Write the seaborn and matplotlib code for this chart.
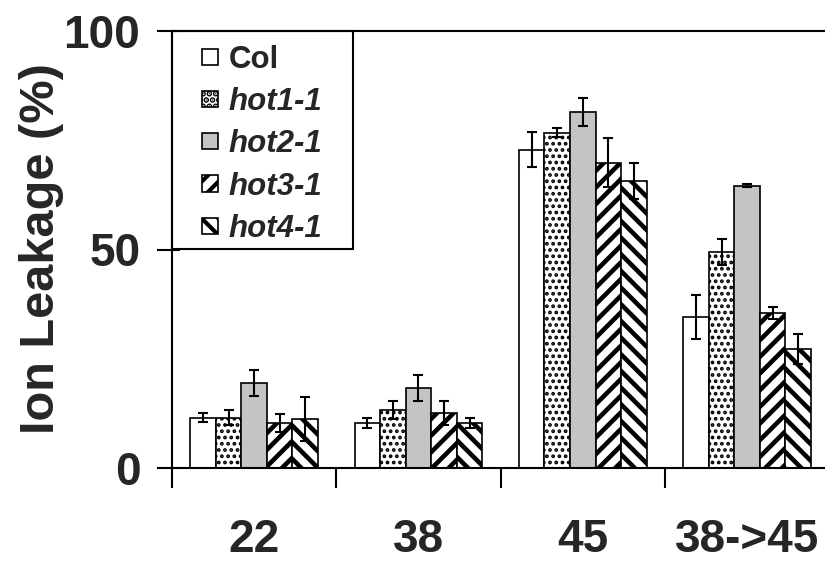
import matplotlib
matplotlib.use("Agg")
import matplotlib.pyplot as plt
import seaborn as sns
import pandas as pd
import numpy as np
from matplotlib.patches import Rectangle
from matplotlib.legend_handler import HandlerPatch
from matplotlib.ticker import FixedLocator

# ---- data ----
conditions = ["22", "38", "45", "38->45"]
genotypes = ["Col", "hot1-1", "hot2-1", "hot3-1", "hot4-1"]
col_vals = [11.5, 10.3, 72.8, 34.6]
col_err = [1.0, 1.1, 4.0, 5.0]
hot1_vals = [11.5, 13.3, 76.7, 49.5]
hot1_err = [1.7, 2.0, 1.0, 3.0]
hot2_vals = [19.5, 18.3, 81.5, 64.6]
hot2_err = [3.0, 3.0, 3.2, 0.4]
hot3_vals = [10.3, 12.6, 69.9, 35.4]
hot3_err = [2.0, 2.7, 5.7, 1.4]
hot4_vals = [11.2, 10.3, 65.7, 27.2]
hot4_err = [5.0, 1.2, 4.1, 3.4]
y_ticks = [0, 50, 100]
y_label = "Ion Leakage (%)"

values = [col_vals, hot1_vals, hot2_vals, hot3_vals, hot4_vals]
errors = [col_err, hot1_err, hot2_err, hot3_err, hot4_err]

rows = []
for g, vals in zip(genotypes, values):
    for c, v in zip(conditions, vals):
        rows.append({"cond": c, "geno": g, "leak": v})
df = pd.DataFrame(rows)

DPI = 150
sns.set_theme(style="white")
plt.rcParams["font.family"] = ["Liberation Sans", "DejaVu Sans"]
plt.rcParams["font.weight"] = "bold"
plt.rcParams["hatch.color"] = "black"
plt.rcParams["hatch.linewidth"] = 2.0

fig = plt.figure(figsize=(825 / DPI, 563 / DPI), dpi=DPI)
ax = fig.add_axes([172 / 825, 95 / 563, 653 / 825, 437 / 563])

palette = {"Col": "white", "hot1-1": "white", "hot2-1": "#c4c4c4",
           "hot3-1": "white", "hot4-1": "white"}
sns.barplot(data=df, x="cond", y="leak", hue="geno", order=conditions,
            hue_order=genotypes, palette=palette, saturation=1,
            width=0.777, gap=0, edgecolor="black", linewidth=0.8,
            errorbar=None, legend=False, ax=ax)

bar_containers = list(ax.containers)
hatches = [None, "....", None, "///", "\\\\\\"]
hatch_lw = [None, 1.2, None, 2.2, 2.2]
for cont, h, hl, errs in zip(bar_containers, hatches, hatch_lw, errors):
    xs, ys = [], []
    for p in cont.patches:
        if h:
            p.set_hatch(h)
            if hasattr(p, "set_hatch_linewidth"):
                p.set_hatch_linewidth(hl)
        xs.append(p.get_x() + p.get_width() / 2)
        ys.append(p.get_height())
    ax.errorbar(xs, ys, yerr=errs, fmt="none", ecolor="black",
                elinewidth=1.0, capsize=2.2, capthick=1.0, zorder=5)

ax.set_xlim(-0.5, 3.474)
ax.set_ylim(0, 100)
ax.set_yticks(y_ticks)
ax.set_yticklabels([str(t) for t in y_ticks], fontsize=22, fontweight="bold")
ax.set_xticks(range(len(conditions)))
ax.set_xticklabels(conditions, fontsize=22, fontweight="bold")
ax.tick_params(axis="x", which="major", length=0, pad=24)
ax.xaxis.set_minor_locator(FixedLocator([-0.5, 0.5, 1.5, 2.5]))
ax.tick_params(axis="x", which="minor", bottom=True, direction="out",
               length=9.6, width=1.0, color="black")
ax.tick_params(axis="y", which="major", left=True, direction="out",
               length=7.2, width=1.0, color="black", pad=8)
ax.yaxis.set_minor_locator(FixedLocator(y_ticks))
ax.yaxis.remove_overlapping_locs = False
ax.tick_params(axis="y", which="minor", left=True, direction="in",
               length=4, width=1.0, color="black")

for side in ["left", "bottom", "top"]:
    ax.spines[side].set_visible(True)
    ax.spines[side].set_color("black")
    ax.spines[side].set_linewidth(1.0)
ax.spines["right"].set_visible(False)

ax.set_xlabel("")
ax.set_ylabel(y_label, fontsize=23.4, fontweight="bold")
ax.yaxis.set_label_coords(-0.165, 0.503)

# legend frame
ax.add_patch(Rectangle((0, 0.501), 0.277, 0.499, transform=ax.transAxes,
                       fill=False, edgecolor="black", linewidth=1.0,
                       zorder=6, clip_on=False))


def square_patch(legend, orig_handle, xdescent, ydescent, width, height, fontsize):
    s = min(width, height)
    return Rectangle((-xdescent, -ydescent + (height - s) / 2), s, s)


handles = [cont.patches[0] for cont in bar_containers]
leg = ax.legend(handles, genotypes, loc="upper left",
                bbox_to_anchor=(0.046, 0.968), borderaxespad=0, borderpad=0,
                frameon=False, handlelength=0.52,
                handleheight=0.52, handletextpad=0.33, labelspacing=0.39,
                handler_map={Rectangle: HandlerPatch(patch_func=square_patch)},
                prop={"weight": "bold", "size": 15})
for t in leg.get_texts():
    if t.get_text().startswith("hot"):
        t.set_style("italic")
for lh in leg.legend_handles:
    lh.set_linewidth(0.8)
    lh.set_edgecolor("black")

fig.savefig("out.png", dpi=DPI)
